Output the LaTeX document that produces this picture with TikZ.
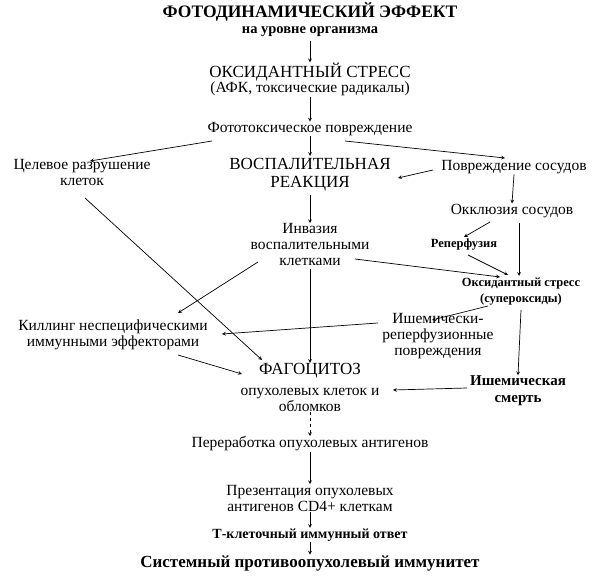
\documentclass[tikz,border=0pt]{standalone}
\usepackage{fontspec}
\setmainfont{Liberation Serif}
\begin{document}
\begin{tikzpicture}[x=1pt,y=-1pt,
  t/.style={align=center,inner sep=0.5pt,font=\fontsize{15.5}{16}\selectfont},
  big/.style={align=center,inner sep=0.5pt,font=\fontsize{17}{18}\selectfont},
  bs/.style={align=center,inner sep=0.5pt,font=\bfseries\fontsize{12.5}{16}\selectfont},
  a/.style={->,>=stealth,line width=0.7pt}]
\useasboundingbox (0,0) rectangle (600,580);
\node[inner sep=0.5pt,font=\bfseries\fontsize{17.5}{18}\selectfont] (title) at (310,12) {ФОТОДИНАМИЧЕСКИЙ ЭФФЕКТ};
\node[inner sep=0.5pt,font=\bfseries\fontsize{14.5}{16}\selectfont] (title2) at (310,32) {на уровне организма};
\node[big] (ox) at (310,72) {ОКСИДАНТНЫЙ СТРЕСС};
\node[t] (ox2) at (310,89) {(АФК, токсические радикалы)};
\node[t] (ph) at (310,129) {Фототоксическое повреждение};
\node[t] (cel) at (82,173) {Целевое разрушение\\клеток};
\node[big] (vos) at (310,175) {ВОСПАЛИТЕЛЬНАЯ\\РЕАКЦИЯ};
\node[t] (pov) at (514,167) {Повреждение сосудов};
\node[t] (okk) at (512,211) {Окклюзия сосудов};
\node[t] (inv) at (310,245) {Инвазия\\воспалительными\\клетками};
\node[bs] (rep) at (464,245) {Реперфузия};
\node[bs] (oks) at (521,292) {Оксидантный стресс\\(супероксиды)};
\node[t] (kil) at (113,335) {Киллинг неспецифическими\\иммунными эффекторами};
\node[t] (ish) at (438,336) {Ишемически-\\реперфузионные\\повреждения};
\node[big] (fag) at (310,371) {ФАГОЦИТОЗ};
\node[t] (fag2) at (310,400) {опухолевых клеток и\\обломков};
\node[bs,font=\bfseries\fontsize{15}{17}\selectfont] (sm) at (518,391) {Ишемическая\\смерть};
\node[t] (per) at (310,444) {Переработка опухолевых антигенов};
\node[t] (pre) at (310,498) {Презентация опухолевых\\антигенов CD4+ клеткам};
\node[inner sep=0.5pt,font=\bfseries\fontsize{14}{16}\selectfont] (tk) at (310,535) {Т-клеточный иммунный ответ};
\node[inner sep=0.5pt,font=\bfseries\fontsize{17}{18}\selectfont] (sys) at (310,563) {Системный противоопухолевый иммунитет};

\draw[a] (title2.south) ++(0,3) -- (ox.north);
\draw[a] (ox2.south) -- (ph.north);
\draw[a] (212,141) -- (90,161);
\draw[a] (ph.south) -- (310,156);
\draw[a] (345,141) -- (505,158);
\draw[a] (433,170) -- (398,178);
\draw[a] (pov.south) -- (okk.north);
\draw[a] (85,198) -- (262,360);
\draw[a] (310,195) -- (inv.north);
\draw[a] (490,222) -- (464,237);
\draw[a] (519,223) -- (519,276);
\draw[a] (468,255) -- (508,275);
\draw[a] (355,259) -- (500,277);
\draw[a] (258,262) -- (178,313);
\draw[a] (310,269) -- (fag.north);
\draw[a] (488,306) -- (432,320);
\draw[a] (378,323) -- (222,334);
\draw[a] (521,310) -- (sm.north);
\draw[a] (178,355) -- (242,374);
\draw[a] (467,388) -- (393,390);
\draw[a,dashed] (fag2.south) -- (per.north);
\draw[a] (per.south) -- (pre.north);
\draw[a] (pre.south) -- (tk.north);
\draw[a] (tk.south) -- (sys.north);
\end{tikzpicture}
\end{document}
